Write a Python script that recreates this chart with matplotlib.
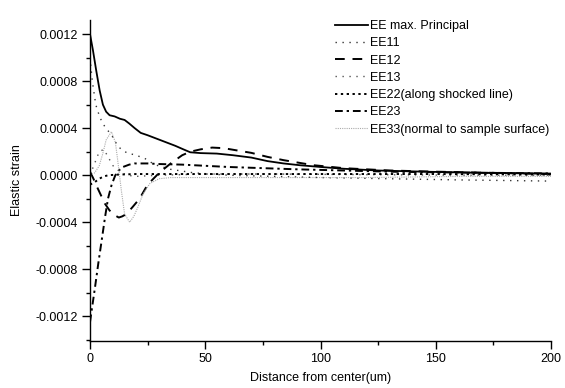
import matplotlib
matplotlib.use("Agg")
import matplotlib.pyplot as plt
from matplotlib.ticker import MultipleLocator, FormatStrFormatter

plt.rcParams['font.family'] = ['Liberation Sans', 'DejaVu Sans']
plt.rcParams['axes.unicode_minus'] = False
plt.rcParams['font.size'] = 9

# ---- data ----
x_max = [0, 1.3, 2.7, 4.2, 5.6, 7, 8.5, 10.7, 13, 15, 17, 19.4, 22, 25, 29, 33, 37, 40.5,
         43.5, 48, 55, 62, 70, 77, 84, 91, 100, 110, 125, 145, 170, 200]
y_max = [0.0012, 0.00106, 0.00089, 0.00072, 0.0006, 0.00054, 0.00051, 0.0005, 0.00048,
         0.00047, 0.00044, 0.0004, 0.00036, 0.00034, 0.00031, 0.00028, 0.00025, 0.00022,
         0.000195, 0.000188, 0.000184, 0.00017, 0.00015, 0.00012, 0.0001, 0.000085,
         0.00007, 0.000055, 0.00004, 0.00003, 0.00002, 0.000014]

x_11 = [0, 1, 2.5, 4.3, 6.5, 9.4, 12.3, 16, 20, 24, 28, 35, 45, 60, 80, 100, 130, 160, 200]
y_11 = [0.001, 0.0008, 0.0006, 0.00049, 0.00041, 0.00034, 0.00024, 0.00019, 0.00017,
        0.00014, 0.00009, 0.00005, 0.00002, 0.0, -0.00001, -0.00002, -0.00003, -0.00004,
        -0.00005]

x_12 = [0, 1.5, 2.7, 4.5, 6.4, 8.5, 10.7, 12.5, 14, 15.8, 18.5, 21.5, 25, 30, 35, 40,
        43.5, 48, 53, 58, 64, 70, 77, 84, 90, 97, 110, 130, 150, 175, 200]
y_12 = [0.00003, -0.00003, -0.000085, -0.00016, -0.00024, -0.0003, -0.00034, -0.00036,
        -0.00035, -0.00033, -0.00027, -0.0002, -0.00008, 0.00002, 0.0001, 0.00017, 0.0002,
        0.00022, 0.000235, 0.00023, 0.00021, 0.00019, 0.000156, 0.000128, 0.000108,
        0.000085, 0.00006, 0.00004, 0.00003, 0.00002, 0.00001]

x_13 = [0, 2, 4, 6, 8, 10, 13, 16, 20, 30, 50, 80, 120, 160, 200]
y_13 = [0.0, 0.0001, 0.0002, 0.00022, 0.00015, 0.00008, 0.00003, 0.0, -0.00001, 0.0,
        0.00001, 0.00001, 0.000005, 0.0, 0.0]

x_22 = [0, 2, 4, 6, 8, 12, 20, 40, 60, 100, 150, 200]
y_22 = [-0.00008, -0.00006, -0.00003, -0.00001, 0.0, 0.000005, 0.00001, 0.00001,
        0.00001, 0.00001, 0.00001, 0.000005]

x_23 = [0, 0.5, 2.2, 3.6, 5.1, 6.5, 7.8, 9.4, 11, 12.5, 14.3, 17, 19.4, 25, 30, 40, 50,
        60, 75, 90, 110, 130, 150, 175, 200]
y_23 = [-0.00125, -0.00118, -0.00095, -0.00075, -0.00055, -0.00036, -0.0002, -0.00008,
        0.0, 0.00004, 0.00007, 0.00009, 0.0001, 0.0001, 0.000095, 0.00009, 0.00008,
        0.00007, 0.00006, 0.00005, 0.00004, 0.00003, 0.000025, 0.00002, 0.000015]

x_33 = [0, 2, 4, 5.5, 7, 9.3, 11, 12, 13.6, 15, 17.2, 19, 20.8, 23, 26, 30, 35, 50, 80,
        120, 160, 200]
y_33 = [0.0, 0.00002, 0.00008, 0.00018, 0.0003, 0.00037, 0.00028, 0.00013, -0.00013,
        -0.00033, -0.0004, -0.00035, -0.00027, -0.00016, -0.00007, -0.00003, -0.00002,
        -0.00002, -0.00002, -0.00002, -0.00001, -0.00001]

labels = ["EE max. Principal", "EE11", "EE12", "EE13", "EE22(along shocked line)",
          "EE23", "EE33(normal to sample surface)"]
x_ticks = [0, 50, 100, 150, 200]
y_ticks = [-0.0012, -0.0008, -0.0004, 0.0, 0.0004, 0.0008, 0.0012]

# ---- figure ----
fig = plt.figure(figsize=(5.65, 3.88), dpi=100)
ax = fig.add_axes([90 / 565, 1 - 341 / 388, 461 / 565, 321 / 388])

ax.plot(x_max, y_max, color='black', lw=1.3, ls='-', label=labels[0])
ax.plot(x_11, y_11, color='#333333', lw=1.0, ls=(0, (1, 4)), label=labels[1])
ax.plot(x_12, y_12, color='black', lw=1.4, ls=(0, (5, 4)), label=labels[2])
ax.plot(x_13, y_13, color='#555555', lw=1.0, ls=(0, (1, 4)), label=labels[3])
ax.plot(x_22, y_22, color='black', lw=1.4, ls=(0, (1.2, 1.8)), label=labels[4])
ax.plot(x_23, y_23, color='black', lw=1.4, ls=(0, (4, 2, 1.2, 2)), label=labels[5])
ax.plot(x_33, y_33, color='#aaaaaa', lw=0.8, ls=(0, (1, 1)), label=labels[6])

ax.set_xlim(0, 200)
ax.set_ylim(-0.00141, 0.00132)
ax.set_xticks(x_ticks)
ax.set_yticks(y_ticks)
ax.xaxis.set_minor_locator(MultipleLocator(25))
ax.yaxis.set_minor_locator(MultipleLocator(0.0002))
ax.yaxis.set_major_formatter(FormatStrFormatter('%.4f'))
ax.tick_params(which='major', direction='out', length=5.5, width=1, pad=3.5, labelsize=9)
ax.tick_params(which='minor', direction='out', length=3, width=1)
ax.spines['top'].set_visible(False)
ax.spines['right'].set_visible(False)
ax.spines['left'].set_linewidth(1)
ax.spines['bottom'].set_linewidth(1)

ax.set_xlabel("Distance from center(um)", fontsize=9, labelpad=5)
ax.set_ylabel("Elastic strain", fontsize=9, labelpad=8.5)

ax.legend(loc='upper left', bbox_to_anchor=(335 / 565, 1 - 20 / 388),
          bbox_transform=fig.transFigure, frameon=False, fontsize=9,
          handlelength=2.6, handletextpad=0.2, labelspacing=0.42,
          borderpad=0, borderaxespad=0)

fig.savefig("out.png", dpi=100)
